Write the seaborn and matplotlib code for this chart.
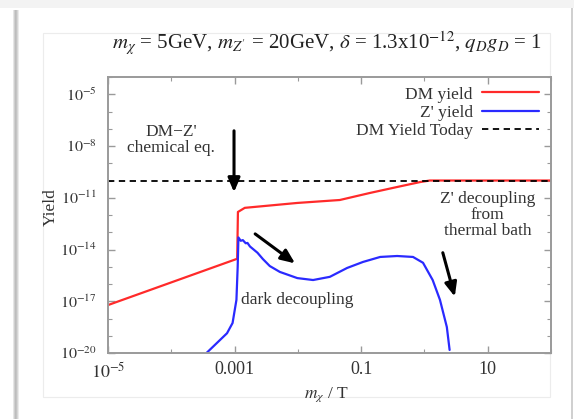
import numpy as np
import pandas as pd
import seaborn as sns
import matplotlib.pyplot as plt
import matplotlib.patches as mpatches
from matplotlib.ticker import FixedLocator, FixedFormatter, NullFormatter

# values
dm_x = [1.0e-5, 1.1e-3, 1.13e-3, 1.45e-3, 9.8e-3, 0.046, 0.138, 0.37, 0.85, 1.22, 100.0]
dm_y = [6.0e-18, 2.9e-15, 1.5e-12, 2.6e-12, 5.0e-12, 7.4e-12, 1.9e-11, 4.2e-11, 8.1e-11, 1.0e-10, 1.0e-10]

zp_x = [3.6e-4, 7.6e-4, 9.3e-4, 1.07e-3, 1.12e-3, 1.15e-3, 1.25e-3, 1.35e-3, 1.5e-3, 1.6e-3,
        1.75e-3, 2.3e-3, 2.8e-3, 3.6e-3, 5.2e-3, 9.8e-3, 0.0174, 0.032, 0.060, 0.107, 0.20,
        0.37, 0.66, 0.95, 1.35, 1.76, 2.26, 2.5]
zp_y = [1.0e-20, 1.4e-19, 5.5e-19, 1.2e-17, 1.0e-15, 5.0e-14, 3.2e-14, 3.5e-14, 2.3e-14, 2.4e-14,
        1.5e-14, 6.5e-15, 2.8e-15, 1.1e-15, 5.0e-16, 2.2e-16, 1.7e-16, 2.6e-16, 8.5e-16, 1.9e-15, 3.7e-15,
        4.2e-15, 3.7e-15, 1.7e-15, 1.7e-16, 1.2e-17, 3.2e-19, 1.5e-20]

y_today = 1.0e-10

x_ticks = [1e-5, 1e-3, 1e-1, 1e1]
x_ticklabels = [r'$10^{-5}$', '0.001', '0.1', '10']
y_ticks = [1e-20, 1e-17, 1e-14, 1e-11, 1e-8, 1e-5]
y_ticklabels = [r'$10^{-20}$', r'$10^{-17}$', r'$10^{-14}$', r'$10^{-11}$', r'$10^{-8}$', r'$10^{-5}$']

sns.set_theme(style="ticks")
plt.rcParams['font.family'] = ['Liberation Serif', 'DejaVu Serif']
plt.rcParams['mathtext.fontset'] = 'stix'

W, H = 574, 419
fig = plt.figure(figsize=(W / 100, H / 100), dpi=100)
fig.patch.set_facecolor('white')

# screenshot card: light top band, left shadow, right edge, faint inner frame
fig.patches.append(mpatches.Rectangle((0, 1 - 8 / H), 1, 8 / H, transform=fig.transFigure,
                                      color='#f3f3f3', lw=0, zorder=-5))
for i, c in enumerate(['#e6e6e6', '#cfcfcf', '#bdbdbd', '#c4c4c4', '#d6d6d6', '#ebebeb']):
    fig.patches.append(mpatches.Rectangle(((13 + i) / W, 0), 1 / W, 1 - 10 / H, transform=fig.transFigure,
                                          color=c, lw=0, zorder=-4))
fig.patches.append(mpatches.Rectangle((571 / W, 0), 2 / W, 1 - 8 / H, transform=fig.transFigure,
                                      color='#d0d0d0', lw=0, zorder=-4))
fig.patches.append(mpatches.Rectangle((43 / W, 1 - 397 / H), 507 / W, 364 / H, transform=fig.transFigure,
                                      fill=False, ec='#ececec', lw=0.8, zorder=-3))

ax = fig.add_axes([108 / W, 1 - 353 / H, 443 / W, 276 / H])

dm = pd.DataFrame({'x': dm_x, 'y': dm_y})
zp = pd.DataFrame({'x': zp_x, 'y': zp_y})
sns.lineplot(data=dm, x='x', y='y', ax=ax, color='#ff2a2a', lw=1.6, sort=False, label='DM yield')
sns.lineplot(data=zp, x='x', y='y', ax=ax, color='#2a2aff', lw=1.6, sort=False, label="Z' yield")
ax.axhline(y_today, color='black', lw=1.3, ls=(0, (3.5, 2.5)), label='DM Yield Today')

ax.set_xscale('log')
ax.set_yscale('log')
ax.set_xlim(1e-5, 1e2)
ax.set_ylim(1e-20, 1e-4)

ax.xaxis.set_major_locator(FixedLocator(x_ticks))
ax.xaxis.set_major_formatter(FixedFormatter(x_ticklabels))
ax.xaxis.set_minor_locator(FixedLocator([10.0 ** k for k in range(-5, 3)]))
ax.xaxis.set_minor_formatter(NullFormatter())
ax.yaxis.set_major_locator(FixedLocator(y_ticks))
ax.yaxis.set_major_formatter(FixedFormatter(y_ticklabels))
ax.yaxis.set_minor_locator(FixedLocator([10.0 ** k for k in range(-20, -3)]))
ax.yaxis.set_minor_formatter(NullFormatter())

for s in ax.spines.values():
    s.set_color('#9a9a9a')
    s.set_linewidth(1.4)
ax.tick_params(which='both', direction='in', top=True, right=True, color='#9a9a9a',
               labelsize=13, labelcolor='#333333')
ax.tick_params(which='major', length=5, width=1)
ax.tick_params(which='minor', length=3, width=0.8)
ax.tick_params(axis='x', pad=6)
ax.tick_params(axis='y', pad=8, labelsize=11.5)

ax.set_xlabel(r'$m_\chi$ / T', fontsize=12.5, color='#333333')
ax.set_ylabel('Yield', fontsize=12.5, color='#333333')
ax.xaxis.set_label_coords(0.494, -0.118)
ax.yaxis.set_label_coords(-0.112, 0.53)

fig.text(327 / W, 1 - 43 / H,
         r'$m_\chi$ = 5GeV, $m_{Z^\prime}$ = 20GeV, $\delta$ = 1.3x10$^{-12}$, $q_D g_D$ = 1',
         ha='center', va='center', fontsize=15, color='#222222')

leg = ax.legend(loc='upper right', bbox_to_anchor=(1.0, 1.01), frameon=False, markerfirst=False,
                fontsize=12.5, handlelength=3.3, labelspacing=0.12, borderpad=0.2, handletextpad=0.5)
for t in leg.get_texts():
    t.set_color('#333333')

akw = dict(arrowstyle='-|>,head_length=0.7,head_width=0.3', color='black', lw=2.2)
ax.annotate('', xy=(9.8e-4, 1.45e-11), xytext=(9.8e-4, 1.1e-7), arrowprops=akw)
ax.annotate('', xy=(9.8e-3, 1.26e-15), xytext=(1.95e-3, 1.0e-13), arrowprops=akw)
ax.annotate('', xy=(3.1, 1.3e-17), xytext=(1.9, 9.3e-15), arrowprops=akw)

tkw = dict(fontsize=12.5, color='#333333', ha='center', va='center', linespacing=1.02)
ax.text(1.0e-4, 2.3e-8, "DM\u2212Z'\nchemical eq.", **tkw)
ax.text(9.8e-3, 1.2e-17, 'dark decoupling', **tkw)
ax.text(10.0, 1.0e-12, "Z' decoupling\nfrom\nthermal bath", **tkw)

fig.savefig('out.png', dpi=100)
